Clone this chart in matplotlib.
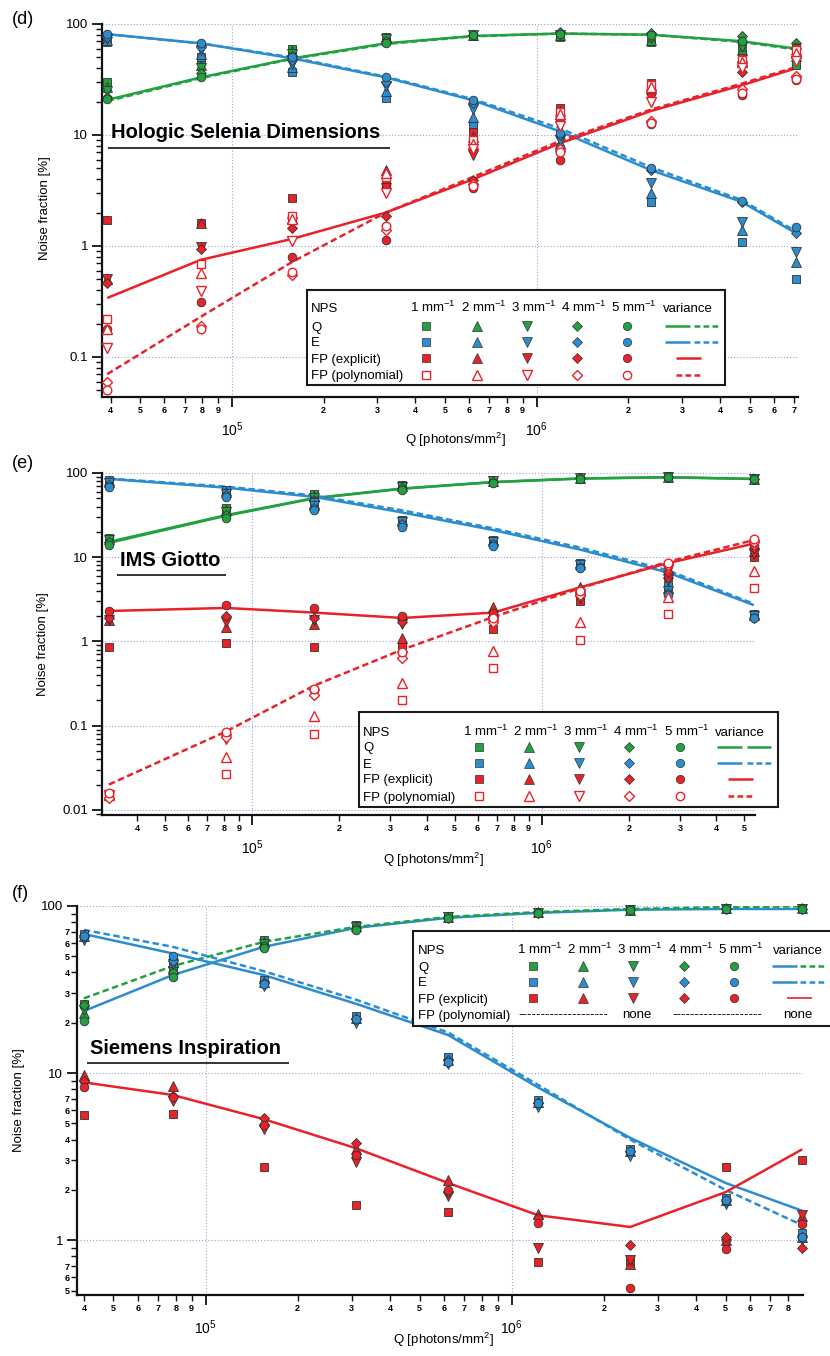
import numpy as np
import matplotlib
matplotlib.use("Agg")
import matplotlib.pyplot as plt
from matplotlib.ticker import LogLocator, FuncFormatter, NullFormatter
from matplotlib.patches import Rectangle

plt.rcParams['font.family'] = ['Liberation Sans', 'DejaVu Sans']
plt.rcParams['mathtext.fontset'] = 'custom'
plt.rcParams['mathtext.rm'] = 'Liberation Sans'
plt.rcParams['mathtext.it'] = 'Liberation Sans:italic'
plt.rcParams['mathtext.bf'] = 'Liberation Sans:bold'

GREEN = '#23a040'
BLUE = '#2b8dd0'
RED = '#e82228'
EDGE = '#333333'

# ---------------- panel (d) : Hologic Selenia Dimensions ----------------
Q_d = [3.9e4, 7.9e4, 1.58e5, 3.2e5, 6.2e5, 1.19e6, 2.38e6, 4.7e6, 7.1e6]
# rows: 1, 2, 3, 4, 5 mm^-1
d_nps_Q = [[30, 47, 60, 77, 78, 76, 69, 60, 43],
           [27, 43, 57, 75, 79, 79, 72, 58, 52],
           [25, 40, 54, 73, 79, 80, 75, 62, 55],
           [22, 36, 51, 70, 80, 85, 83, 78, 68],
           [21, 33, 49, 67, 79, 82, 80, 70, 62]]
d_nps_E = [[69, 50, 37, 21.5, 12, 7.5, 2.5, 1.09, 0.5],
           [72, 54, 41, 25, 14.5, 8.5, 3.0, 1.4, 0.72],
           [74, 58, 44, 27.5, 17, 9, 3.7, 1.65, 0.88],
           [77, 62, 47, 30, 19.5, 10, 4.8, 2.5, 1.3],
           [81, 67, 50, 33, 20.5, 10.5, 5.0, 2.55, 1.48]]
d_nps_FPexp = [[1.7, 1.6, 2.7, 3.6, 10.7, 17.5, 29.5, 49, 61],
               [0.5, 1.6, 1.8, 4.8, 9.5, 16.5, 28, 46, 56],
               [0.5, 0.97, 1.65, 3.3, 6.6, 12.8, 21.5, 42, 48],
               [0.46, 0.94, 1.45, 1.85, 3.9, 7.2, 13, 37, 33],
               [0.18, 0.31, 0.8, 1.13, 3.3, 6.0, 12.5, 23, 31]]
d_nps_FPpoly = [[0.22, 0.69, 1.85, 4.2, 9.0, 16, 28, 47, 58],
                [0.18, 0.57, 1.75, 4.5, 8.3, 15.5, 27, 45, 55],
                [0.12, 0.39, 1.1, 3.0, 7.5, 12, 20, 40, 46],
                [0.06, 0.19, 0.55, 1.4, 3.6, 7.5, 13.5, 26, 34],
                [0.05, 0.18, 0.58, 1.5, 3.5, 7.0, 12.8, 24, 32]]
d_var_Q_solid = [20.7, 33, 49, 67, 78, 82, 80, 70, 60]
d_var_Q_dash = [20.2, 32.5, 48.5, 66, 77.5, 82, 80, 69, 59]
d_var_E_solid = [81, 67, 49, 33, 20.5, 10.8, 4.8, 2.5, 1.3]
d_var_E_dash = [81, 67, 50, 33.5, 21, 11.5, 5.1, 2.6, 1.35]
d_var_FP_solid = [0.34, 0.75, 1.16, 2.0, 4.0, 8.4, 16.5, 28, 40]
d_var_FP_dash = [0.07, 0.23, 0.72, 2.0, 4.2, 8.8, 17, 29, 41]

# ---------------- panel (e) : IMS Giotto ----------------
Q_e = [3.2e4, 8.1e4, 1.64e5, 3.3e5, 6.8e5, 1.36e6, 2.72e6, 5.4e6]
e_nps_Q = [[17, 38, 56, 72, 82, 88, 91, 87],
           [16.5, 36, 53, 70, 80, 88, 90, 86],
           [16, 34, 51, 68, 80, 87, 90, 86],
           [15, 32, 48, 66, 79, 87, 90, 85],
           [14, 29, 46, 63, 77, 86, 89, 84]]
e_nps_E = [[82, 63, 45, 28, 16, 8.5, 4.6, 2.1],
           [78, 60, 42, 27, 15.5, 8.2, 4.3, 2.05],
           [76, 57, 41, 26, 15, 8.0, 4.0, 2.0],
           [73, 55, 38, 24.5, 14.5, 7.7, 3.8, 1.9],
           [68, 52, 36, 23, 13.5, 7.4, 3.6, 1.9]]
e_nps_FPexp = [[0.85, 0.95, 0.85, 0.9, 1.4, 3.0, 5.8, 10],
               [1.8, 1.5, 1.6, 1.1, 2.6, 4.4, 6.5, 12],
               [1.8, 1.7, 1.8, 1.6, 1.7, 3.3, 5.5, 11],
               [1.9, 2.0, 1.9, 1.7, 2.0, 3.5, 6.7, 13],
               [2.3, 2.7, 2.5, 2.0, 2.2, 3.6, 7.8, 14]]
e_nps_FPpoly = [[0.015, 0.027, 0.079, 0.20, 0.48, 1.05, 2.1, 4.3],
                [0.015, 0.043, 0.13, 0.32, 0.77, 1.68, 3.4, 6.9],
                [0.015, 0.07, 0.24, 0.68, 1.6, 3.7, 7.5, 14],
                [0.014, 0.074, 0.23, 0.63, 1.7, 3.6, 8.0, 15],
                [0.016, 0.085, 0.27, 0.74, 1.9, 4.0, 8.6, 16.5]]
e_var_Q_solid = [14.8, 31, 50, 65, 78, 86, 89, 85]
e_var_Q_dash = [15.2, 31.5, 50.5, 65.5, 78, 86, 89, 85]
e_var_E_solid = [85, 67, 52, 34, 21, 12.3, 6.6, 2.7]
e_var_E_dash = [86, 69, 54, 36, 22, 13, 7.0, 2.8]
e_var_FP_solid = [2.3, 2.5, 2.2, 1.9, 2.2, 4.4, 8.5, 14.5]
e_var_FP_dash = [0.020, 0.085, 0.30, 0.80, 1.95, 4.3, 8.8, 16]

# ---------------- panel (f) : Siemens Inspiration ----------------
Q_f = [4.0e4, 7.8e4, 1.55e5, 3.1e5, 6.2e5, 1.22e6, 2.44e6, 5.0e6, 8.9e6]
f_nps_Q = [[26, 44, 63, 77, 87, 92, 96, 97, 97],
           [23, 42, 61, 76, 86, 92, 95, 97, 97],
           [24, 41, 59, 75, 86, 91, 95, 96, 96],
           [25.5, 40, 58, 74, 85, 91, 95, 96, 96],
           [20.5, 37.5, 56, 72, 85, 91, 95, 96, 96]]
f_nps_E = [[68, 48, 36, 22, 12.5, 6.9, 3.5, 1.8, 1.1],
           [66, 46, 35, 21.5, 12, 6.7, 3.4, 1.75, 1.05],
           [63, 45, 33, 20, 11.3, 6.3, 3.2, 1.65, 1.0],
           [65, 47, 34.5, 21, 12, 6.6, 3.4, 1.72, 1.04],
           [66, 50, 34, 21, 11.6, 6.6, 3.4, 1.75, 1.04]]
f_nps_FPexp = [[5.6, 5.7, 2.75, 1.62, 1.48, 0.74, 0.74, 2.75, 3.0],
               [9.8, 8.4, 5.2, 3.5, 2.3, 1.43, 0.72, 1.0, 1.4],
               [8.5, 6.8, 4.6, 2.95, 1.85, 0.9, 0.76, 0.95, 1.42],
               [9.0, 7.3, 5.4, 3.8, 1.95, 1.35, 0.93, 1.05, 0.9],
               [8.3, 7.2, 4.9, 3.25, 2.0, 1.27, 0.52, 0.88, 1.25]]
f_var_Q_solid = [23.5, 38.6, 57, 74, 85, 91, 95, 96, 96]
f_var_Q_dash = [28, 43.7, 61, 75, 86, 92, 96, 98.5, 99.5]
f_var_E_solid = [68, 52, 38.6, 26, 16.9, 8.2, 4.1, 2.2, 1.5]
f_var_E_dash = [72, 57, 40.7, 27.5, 17.5, 8.5, 4.0, 2.0, 1.23]
f_var_FP_solid = [8.8, 7.4, 5.3, 3.55, 2.2, 1.41, 1.2, 1.94, 3.5]

MARKERS = ['s', '^', 'v', 'D', 'o']
MSCALE = [1.0, 1.12, 1.12, 0.85, 1.0]
DASH = (0, (2.6, 1.4))
LEGFS = 9.5

W, H = 830, 1356
fig = plt.figure(figsize=(W / 100, H / 100), dpi=100)


def rect_px(l, r, t, b):
    return [l / W, 1 - b / H, (r - l) / W, (b - t) / H]


def minor_digit(v, pos, maxd=9):
    if v <= 0:
        return ''
    m = v / 10 ** np.floor(np.log10(v) + 1e-9)
    d = int(round(m))
    if d < 2 or d > maxd:
        return ''
    return str(d)


def make_panel(px, Q, xlim, ylim, filled_sets, open_sets, lines, ylab_minor=False):
    ax = fig.add_axes(rect_px(*px))
    ax.set_xscale('log')
    ax.set_yscale('log')
    ax.set_xlim(xlim)
    ax.set_ylim(ylim)
    for s in ['top', 'right']:
        ax.spines[s].set_visible(False)
    for s in ['left', 'bottom']:
        ax.spines[s].set_linewidth(1.6)
        ax.spines[s].set_color('#111111')
    ax.grid(which='major', color='#a0a0dc', linestyle=(0, (1, 1.8)), linewidth=0.8)
    ax.set_axisbelow(True)
    for vals, color, ls in lines:
        ax.plot(Q, vals, color=color, lw=1.8, ls=ls, zorder=2,
                solid_capstyle='butt', dash_capstyle='butt')
    for data, color in filled_sets:
        for k, vals in enumerate(data):
            ax.plot(Q, vals, ls='none', marker=MARKERS[k], ms=6.2 * MSCALE[k],
                    mfc=color, mec=EDGE, mew=0.6, zorder=3, clip_on=False)
    for data, color in open_sets:
        for k, vals in enumerate(data):
            ax.plot(Q, vals, ls='none', marker=MARKERS[k], ms=6.2 * MSCALE[k],
                    mfc='white', mec=color, mew=1.0, zorder=3, clip_on=False)
    ax.xaxis.set_major_locator(LogLocator(base=10, numticks=30))
    ax.xaxis.set_minor_locator(LogLocator(base=10, subs=np.arange(2, 10), numticks=30))
    ax.yaxis.set_major_locator(LogLocator(base=10, numticks=30))
    ax.yaxis.set_minor_locator(LogLocator(base=10, subs=np.arange(2, 10), numticks=30))
    ax.xaxis.set_major_formatter(FuncFormatter(lambda v, p: r'$10^{%d}$' % int(round(np.log10(v)))))
    ax.xaxis.set_minor_formatter(FuncFormatter(lambda v, p: minor_digit(v, p)))
    ax.yaxis.set_major_formatter(FuncFormatter(lambda v, p: '%g' % v))
    if ylab_minor:
        ax.yaxis.set_minor_formatter(FuncFormatter(lambda v, p: minor_digit(v, p, 7)))
    else:
        ax.yaxis.set_minor_formatter(NullFormatter())
    ax.tick_params(axis='both', which='major', direction='out', length=7, width=1.3,
                   labelsize=9.5, color='#111111')
    ax.tick_params(axis='both', which='minor', direction='out', length=4, width=1.0,
                   color='#111111')
    ax.tick_params(axis='x', which='minor', labelsize=6.5, pad=2.5)
    ax.tick_params(axis='x', which='major', labelsize=10, pad=10)
    ax.tick_params(axis='y', which='major', pad=3)
    ax.tick_params(axis='y', which='minor', labelsize=6.5, pad=1.5)
    for t in ax.xaxis.get_minor_ticks():
        t.label1.set_fontweight('bold')
    if ylab_minor:
        for t in ax.yaxis.get_minor_ticks():
            t.label1.set_fontweight('bold')
    return ax


# panel (d)
make_panel((102, 798, 24, 397), Q_d, (3.75e4, 7.2e6), (0.0436, 100),
           [(d_nps_Q, GREEN), (d_nps_E, BLUE), (d_nps_FPexp, RED)],
           [(d_nps_FPpoly, RED)],
           [(d_var_Q_solid, GREEN, '-'), (d_var_Q_dash, GREEN, DASH),
            (d_var_E_solid, BLUE, '-'), (d_var_E_dash, BLUE, DASH),
            (d_var_FP_solid, RED, '-'), (d_var_FP_dash, RED, DASH)])

# panel (e)
make_panel((102, 755, 473, 815), Q_e, (3.03e4, 5.45e6), (0.0087, 100),
           [(e_nps_Q, GREEN), (e_nps_E, BLUE), (e_nps_FPexp, RED)],
           [(e_nps_FPpoly, RED)],
           [(e_var_Q_solid, GREEN, '-'), (e_var_Q_dash, GREEN, '-'),
            (e_var_E_solid, BLUE, '-'), (e_var_E_dash, BLUE, DASH),
            (e_var_FP_solid, RED, '-'), (e_var_FP_dash, RED, DASH)])

# panel (f)
make_panel((77, 803, 906, 1295), Q_f, (3.8e4, 8.95e6), (0.47, 100),
           [(f_nps_Q, GREEN), (f_nps_E, BLUE), (f_nps_FPexp, RED)],
           [],
           [(f_var_Q_solid, BLUE, '-'), (f_var_Q_dash, GREEN, DASH),
            (f_var_E_solid, BLUE, '-'), (f_var_E_dash, BLUE, DASH),
            (f_var_FP_solid, RED, '-')],
           ylab_minor=True)

# ---------------- overlay (pixel coordinates) ----------------
ov = fig.add_axes([0, 0, 1, 1], zorder=10)
ov.set_xlim(0, W)
ov.set_ylim(H, 0)
ov.axis('off')

# panel letters
for lbl, y in [('(d)', 20), ('(e)', 463), ('(f)', 893)]:
    ov.text(12, y, lbl, fontsize=13, ha='left', va='center')

# axis labels
for (x, y) in [(45, 208), (43, 644), (19, 1100)]:
    ov.text(x, y, 'Noise fraction [%]', fontsize=9.5, rotation=90, ha='center', va='center')
for (x, y) in [(455, 440), (433, 860), (443, 1340)]:
    ov.text(x, y, 'Q [photons/mm$^{2}$]', fontsize=9.5, ha='center', va='center')

# titles with underline
for (txt, x, y, ux0, ux1, uy) in [('Hologic Selenia Dimensions', 111, 132, 108, 390, 148),
                                  ('IMS Giotto', 120, 561, 117, 226, 575),
                                  ('Siemens Inspiration', 90, 1048, 87, 289, 1063)]:
    ov.text(x, y, txt, fontsize=14.5, fontweight='bold', ha='left', va='center')
    ov.plot([ux0, ux1], [uy, uy], color='#111111', lw=1.2, solid_capstyle='butt')

ROW_NAMES = ['NPS', 'Q', 'E', 'FP (explicit)', 'FP (polynomial)']


def legend(box, label_x, rows, cols, var_hdr_x, kinds, items):
    x0, x1, y0, y1 = box
    ov.add_patch(Rectangle((x0, y0), x1 - x0, y1 - y0, fc='white', ec='#1a1a1a',
                           lw=1.5, zorder=5))
    for nm, y in zip(ROW_NAMES, rows):
        ov.text(label_x, y + 4.5, nm, fontsize=LEGFS, ha='left', va='baseline', zorder=6)
    for i, cx in enumerate(cols):
        ov.text(cx + 7, rows[0] + 4.5, '%d mm$^{-1}$' % (i + 1), fontsize=LEGFS,
                ha='center', va='baseline', zorder=6)
    ov.text(var_hdr_x, rows[0] + 4.5, 'variance', fontsize=LEGFS, ha='center',
            va='baseline', zorder=6)
    for r, kind in enumerate(kinds):
        if kind is None:
            continue
        color, filled = kind
        y = rows[r + 1]
        for k, cx in enumerate(cols):
            if filled:
                ov.plot([cx], [y], marker=MARKERS[k], ms=6.0 * MSCALE[k], mfc=color,
                        mec=EDGE, mew=0.5, ls='none', zorder=6)
            else:
                ov.plot([cx], [y], marker=MARKERS[k], ms=6.0 * MSCALE[k], mfc='white',
                        mec=color, mew=1.0, ls='none', zorder=6)
    for xa, xb, r, color, ls, lw in items:
        ov.plot([xa, xb], [rows[r], rows[r]], color=color, ls=ls, lw=lw, zorder=6,
                solid_capstyle='butt', dash_capstyle='butt')


LD = (0, (2.3, 1.3))
legend((307, 725, 290, 385), 311, [308, 326, 342, 358, 375],
       [426, 477, 527, 577, 627], 688,
       [(GREEN, True), (BLUE, True), (RED, True), (RED, False)],
       [(665, 690, 1, GREEN, '-', 1.8), (694, 719, 1, GREEN, LD, 1.8),
        (665, 690, 2, BLUE, '-', 1.8), (694, 719, 2, BLUE, LD, 1.8),
        (676, 701, 3, RED, '-', 1.8), (676, 701, 4, RED, LD, 1.8)])

legend((359, 778, 712, 807), 363, [731, 747, 763, 779, 796],
       [479, 529, 579, 629, 680], 740,
       [(GREEN, True), (BLUE, True), (RED, True), (RED, False)],
       [(717, 742, 1, GREEN, '-', 1.8), (747, 771, 1, GREEN, '-', 1.8),
        (717, 742, 2, BLUE, '-', 1.8), (747, 771, 2, BLUE, LD, 1.8),
        (728, 753, 3, RED, '-', 1.8), (728, 753, 4, RED, LD, 1.8)])

legend((413, 834, 931, 1026), 418, [949, 966, 982, 998, 1014],
       [533, 583, 633, 684, 734], 798,
       [(GREEN, True), (BLUE, True), (RED, True), None],
       [(772, 797, 1, BLUE, '-', 1.8), (800, 826, 1, GREEN, LD, 1.8),
        (772, 797, 2, BLUE, '-', 1.8), (800, 826, 2, BLUE, LD, 1.8),
        (787, 812, 3, RED, '-', 1.2)])
for x, txt in [(563, '-' * 20), (637, 'none'), (717, '-' * 20), (798, 'none')]:
    ov.text(x, 1014 + 4.5, txt, fontsize=LEGFS, ha='center', va='baseline', zorder=6)

fig.savefig('out.png', dpi=100)
